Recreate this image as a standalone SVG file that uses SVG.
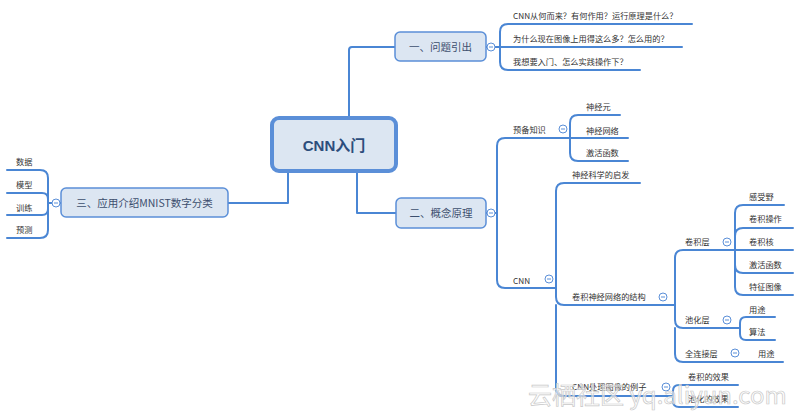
<svg xmlns="http://www.w3.org/2000/svg" width="800" height="414" viewBox="0 0 800 414">
<style>
.ln{fill:none;stroke:#4a86d4;stroke-width:2;stroke-linecap:round;stroke-linejoin:round}
.node rect{fill:#dce6f2;stroke:#5b8fd8;stroke-width:1.5}
.nt{font-family:"Noto Sans CJK SC","Liberation Sans",sans-serif;font-size:10.5px;fill:#3c4f6e;text-anchor:middle}
.ct{font-family:"Liberation Sans","Noto Sans CJK SC",sans-serif;font-size:15px;font-weight:bold;fill:#2d4d7c;text-anchor:middle}
.t{font-family:"Noto Sans CJK SC","Liberation Sans",sans-serif;font-size:8.2px;fill:#333}
.col circle{fill:#fff;stroke:#5b8fd8;stroke-width:1}
.col path{stroke:#5b8fd8;stroke-width:1}
.wm{font-family:"Noto Sans CJK SC","Liberation Sans",sans-serif;font-size:24px;fill:#fff;fill-opacity:0.6;stroke:#c8c8c8;stroke-width:0.7}
</style>
<rect width="800" height="414" fill="#fff"/>
<g id="connectors">
<path class="ln" d="M349,118 V50 Q349,47 352,47 H395"/>
<path class="ln" d="M357,171 V213 H396"/>
<path class="ln" d="M288,171 V203 H228"/>
<path class="ln" d="M486,47 H487"/>
<path class="ln" d="M495,47 H682"/>
<path class="ln" d="M500,47 V32 Q500,24 508,24 H692"/>
<path class="ln" d="M500,47 V62 Q500,70 508,70 H640"/>
<path class="ln" d="M486,213 H487"/>
<path class="ln" d="M495,213 H497"/>
<path class="ln" d="M497,213 V146 Q497,138 505,138 H628"/>
<path class="ln" d="M497,213 V280 Q497,288 505,288 H556"/>
<path class="ln" d="M570,138 V123 Q570,115 578,115 H620"/>
<path class="ln" d="M570,138 V153 Q570,161 578,161 H628"/>
<path class="ln" d="M556,288 V191 Q556,183 564,183 H640"/>
<path class="ln" d="M556,288 V297 Q556,305 564,305 H675"/>
<path class="ln" d="M556,305 V388 Q556,396 564,396 H673"/>
<path class="ln" d="M675,305 V258 Q675,250 683,250 H793"/>
<path class="ln" d="M675,305 V320 Q675,328 683,328 H740"/>
<path class="ln" d="M675,328 V354 Q675,362 683,362 H783"/>
<path class="ln" d="M735,250 V213 Q735,205 743,205 H784"/>
<path class="ln" d="M735,250 V236 Q735,228 743,228 H793"/>
<path class="ln" d="M735,250 V265 Q735,273 743,273 H793"/>
<path class="ln" d="M735,265 V287 Q735,295 743,295 H793"/>
<path class="ln" d="M740,328 V323 Q740,317 746,317 H775"/>
<path class="ln" d="M740,328 V334 Q740,340 746,340 H775"/>
<path class="ln" d="M673,396 V391 Q673,385 679,385 H738"/>
<path class="ln" d="M673,396 V401 Q673,407 679,407 H738"/>
<path class="ln" d="M61,203 H60"/>
<path class="ln" d="M52,203 H48 V178 Q48,170 40,170 H7"/>
<path class="ln" d="M48,203 V199 Q48,193 42,193 H7"/>
<path class="ln" d="M48,203 V209 Q48,215 42,215 H7"/>
<path class="ln" d="M48,203 V230 Q48,238 40,238 H7"/>
</g>
<g id="center" class="node">
<rect x="272" y="118" width="124" height="53" rx="7" style="stroke-width:4"/>
<text class="ct" x="334" y="151">CNN入门</text>
</g>
<g id="n1" class="node">
<rect x="395" y="32" width="91" height="29" rx="5"/>
<text class="nt" x="440.5" y="51">一、问题引出</text>
</g>
<g id="n2" class="node">
<rect x="396" y="198" width="90" height="30" rx="5"/>
<text class="nt" x="441" y="217">二、概念原理</text>
</g>
<g id="n3" class="node">
<rect x="61" y="188" width="167" height="29" rx="5"/>
<text class="nt" x="144.5" y="207">三、应用介绍MNIST数字分类</text>
</g>
<g id="collapse" class="col">
<circle cx="491" cy="47" r="4"/><path d="M489,47 H493"/>
<circle cx="491" cy="213" r="4"/><path d="M489,213 H493"/>
<circle cx="56" cy="203" r="4"/><path d="M54,203 H58"/>
<circle cx="563" cy="129" r="4"/><path d="M561,129 H565"/>
<circle cx="549" cy="279" r="4"/><path d="M547,279 H551"/>
<circle cx="663" cy="297" r="4"/><path d="M661,297 H665"/>
<circle cx="666" cy="387" r="4"/><path d="M664,387 H668"/>
<circle cx="727" cy="242" r="4"/><path d="M725,242 H729"/>
<circle cx="727" cy="320" r="4"/><path d="M725,320 H729"/>
<circle cx="735" cy="353" r="4"/><path d="M733,353 H737"/>
</g>
<g id="q1"><text class="t" x="513" y="19">CNN从何而来？有何作用？运行原理是什么？</text></g>
<g id="q2"><text class="t" x="513" y="42">为什么现在图像上用得这么多？怎么用的？</text></g>
<g id="q3"><text class="t" x="513" y="65">我想要入门、怎么实践操作下？</text></g>
<g id="prep"><text class="t" x="513" y="133">预备知识</text></g>
<g id="neuron"><text class="t" x="586" y="110">神经元</text></g>
<g id="nn"><text class="t" x="586" y="134">神经网络</text></g>
<g id="act1"><text class="t" x="586" y="156">激活函数</text></g>
<g id="cnn"><text class="t" x="513" y="284">CNN</text></g>
<g id="neuro"><text class="t" x="572" y="178">神经科学的启发</text></g>
<g id="struct"><text class="t" x="572" y="300">卷积神经网络的结构</text></g>
<g id="example"><text class="t" x="572" y="390">CNN处理图像的例子</text></g>
<g id="conv"><text class="t" x="685" y="245">卷积层</text></g>
<g id="pool"><text class="t" x="685" y="323">池化层</text></g>
<g id="fc"><text class="t" x="685" y="357">全连接层</text></g>
<g id="rf"><text class="t" x="749" y="200">感受野</text></g>
<g id="convop"><text class="t" x="749" y="222">卷积操作</text></g>
<g id="kernel"><text class="t" x="749" y="245">卷积核</text></g>
<g id="act2"><text class="t" x="749" y="268">激活函数</text></g>
<g id="fmap"><text class="t" x="749" y="290">特征图像</text></g>
<g id="use1"><text class="t" x="749" y="313">用途</text></g>
<g id="algo"><text class="t" x="749" y="335">算法</text></g>
<g id="use2"><text class="t" x="758" y="357">用途</text></g>
<g id="convfx"><text class="t" x="688" y="380">卷积的效果</text></g>
<g id="poolfx"><text class="t" x="688" y="402">池化的效果</text></g>
<g id="data"><text class="t" x="16" y="165">数据</text></g>
<g id="model"><text class="t" x="16" y="188">模型</text></g>
<g id="train"><text class="t" x="16" y="211">训练</text></g>
<g id="pred"><text class="t" x="16" y="233">预测</text></g>
<text class="wm" x="528" y="404">云栖社区 yq.aliyun.com</text>
</svg>
